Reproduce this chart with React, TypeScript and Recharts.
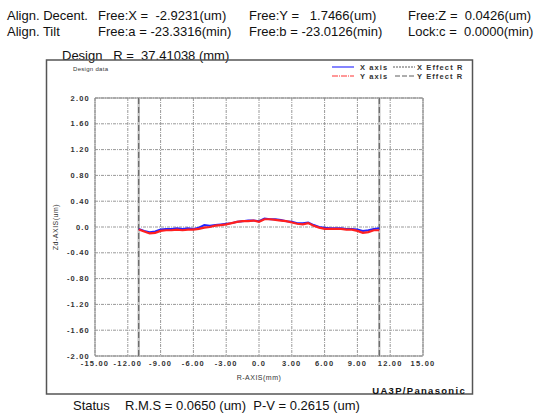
import React from "react";
import {
  LineChart,
  Line,
  XAxis,
  YAxis,
  CartesianGrid,
  ReferenceLine,
  ReferenceArea,
} from "recharts";

const radii = [
  -11, -10.5, -10, -9.5, -9, -8.5, -8, -7.5, -7, -6.5, -6, -5.5, -5, -4.5, -4,
  -3.5, -3, -2.5, -2, -1.5, -1, -0.5, 0, 0.5, 1, 1.5, 2, 2.5, 3, 3.5, 4, 4.5, 5,
  5.5, 6, 6.5, 7, 7.5, 8, 8.5, 9, 9.5, 10, 10.5, 11,
];
const xAxisProfile = [
  -0.03, -0.06, -0.08, -0.07, -0.04, -0.03, -0.03, -0.02, -0.03, -0.02, -0.03,
  -0.01, 0.03, 0.02, 0.03, 0.04, 0.05, 0.06, 0.08, 0.09, 0.1, 0.1, 0.09, 0.13,
  0.12, 0.12, 0.11, 0.09, 0.08, 0.06, 0.06, 0.07, 0.03, 0.0, -0.01, -0.02, -0.02,
  -0.02, -0.03, -0.03, -0.04, -0.06, -0.05, -0.03, -0.02,
];
const yAxisProfile = [
  -0.04, -0.07, -0.1, -0.09, -0.06, -0.05, -0.05, -0.04, -0.05, -0.04, -0.04,
  -0.03, -0.01, 0.0, 0.02, 0.03, 0.04, 0.06, 0.08, 0.09, 0.09, 0.1, 0.08, 0.12,
  0.12, 0.11, 0.1, 0.09, 0.07, 0.05, 0.04, 0.06, 0.02, -0.01, -0.03, -0.03, -0.03,
  -0.03, -0.04, -0.04, -0.06, -0.09, -0.08, -0.05, -0.05,
];
const xTicks = [-15, -12, -9, -6, -3, 0, 3, 6, 9, 12, 15];
const yTicks = [-2, -1.6, -1.2, -0.8, -0.4, 0, 0.4, 0.8, 1.2, 1.6, 2];
const effectR = [-11, 11];

const data = radii.map((r, i) => ({ r, xa: xAxisProfile[i], ya: yAxisProfile[i] }));
const fmt = (v: number) => (v === 0 ? "0.0" : v.toFixed(2));

const tickStyle = {
  fontSize: 7.5,
  fontFamily: "Liberation Sans, Arial, sans-serif",
  fontWeight: "bold",
  fill: "#333",
  letterSpacing: 1.2,
};

const hdr: React.CSSProperties = {
  fontFamily: "Liberation Sans, Arial, sans-serif",
  fontSize: 13,
  fill: "#111",
  whiteSpace: "pre",
};
const small: React.CSSProperties = {
  fontFamily: "Liberation Sans, Arial, sans-serif",
  fontSize: 7.5,
  fontWeight: "bold",
  fill: "#333",
  letterSpacing: 1.1,
  whiteSpace: "pre",
};

export default function App() {
  return (
    <div style={{ position: "absolute", left: 0, top: 0, width: 536, height: 415, background: "#fff" }}>
      <div style={{ position: "absolute", left: 0, top: 0 }}>
        <LineChart
          width={536}
          height={415}
          data={data}
          margin={{ top: 98, right: 113, left: 45, bottom: 39 }}
        >
          <CartesianGrid stroke="#999" strokeDasharray="3 1 1 1" />
          <XAxis
            type="number"
            dataKey="r"
            domain={[-15, 15]}
            ticks={xTicks}
            tickFormatter={fmt}
            axisLine={false}
            tickLine={false}
            tickSize={0}
            tickMargin={5}
            height={20}
            tick={tickStyle}
            interval={0}
          />
          <YAxis
            type="number"
            domain={[-2, 2]}
            ticks={yTicks}
            tickFormatter={fmt}
            axisLine={false}
            tickLine={false}
            tickSize={0}
            tickMargin={5}
            width={50}
            tick={tickStyle}
            interval={0}
          />
          <ReferenceArea x1={-15} x2={15} y1={-2} y2={2} fill="none" fillOpacity={0} stroke="#888" strokeWidth={1} />
          {effectR.map((v) => (
            <ReferenceLine key={"b" + v} x={v} stroke="#c4c4c4" strokeWidth={2.5} />
          ))}
          {effectR.map((v) => (
            <ReferenceLine key={"d" + v} x={v} stroke="#555" strokeWidth={1} strokeDasharray="6 3" />
          ))}
          <Line type="linear" dataKey="xa" stroke="#2323ff" strokeWidth={2} dot={false} isAnimationActive={false} />
          <Line type="linear" dataKey="ya" stroke="#ff2020" strokeWidth={2.2} dot={false} isAnimationActive={false} />
        </LineChart>
      </div>
      <svg
        width={536}
        height={415}
        style={{ position: "absolute", left: 0, top: 0, pointerEvents: "none" }}
      >
        <text x={7} y={20} style={hdr}>Align. Decent.</text>
        <text x={98} y={20} style={hdr}>{"Free:X =  -2.9231(um)"}</text>
        <text x={249} y={20} style={hdr}>{"Free:Y =   1.7466(um)"}</text>
        <text x={408} y={20} style={hdr}>{"Free:Z =  0.0426(um)"}</text>
        <text x={7} y={36} style={hdr}>Align. Tilt</text>
        <text x={98} y={36} style={hdr}>{"Free:a = -23.3316(min)"}</text>
        <text x={249} y={36} style={hdr}>{"Free:b = -23.0126(min)"}</text>
        <text x={408} y={36} style={hdr}>{"Lock:c =  0.0000(min)"}</text>
        <text x={62} y={60} style={hdr}>{"Design   R =  37.41038 (mm)"}</text>

        <rect x={46.5} y={60} width={426} height={334} fill="none" stroke="#555" strokeWidth={1.5} />

        <text x={73} y={71} style={{ ...small, fontSize: 6, fontWeight: "normal", letterSpacing: 0.3 }}>Design data</text>

        <line x1={332} y1={67} x2={354} y2={67} stroke="#3333ff" strokeWidth={1.2} />
        <text x={360} y={69.5} style={small}>X axis</text>
        <line x1={393} y1={67} x2={415} y2={67} stroke="#333" strokeWidth={0.8} strokeDasharray="2 1" />
        <text x={417} y={69.5} style={small}>X Effect R</text>
        <line x1={332} y1={76} x2={354} y2={76} stroke="#ff3333" strokeWidth={1.2} strokeDasharray="6 1 1 1" />
        <text x={360} y={78.5} style={small}>Y axis</text>
        <line x1={395} y1={76} x2={415} y2={76} stroke="#333" strokeWidth={0.8} strokeDasharray="5 2" />
        <text x={417} y={78.5} style={small}>Y Effect R</text>

        <text
          transform="translate(58,227) rotate(-90)"
          textAnchor="middle"
          style={{ ...small, fontSize: 7, fontWeight: "normal", letterSpacing: 0.5 }}
        >
          Zd-AXIS(um)
        </text>
        <text x={259} y={380} textAnchor="middle" style={{ ...small, fontSize: 7, fontWeight: "normal", letterSpacing: 0.5 }}>R-AXIS(mm)</text>
        <text
          x={466}
          y={393.5}
          textAnchor="end"
          style={{ ...small, fontSize: 9.5, fontWeight: "bold", letterSpacing: 1.3, fill: "#111" }}
        >
          UA3P/Panasonic
        </text>

        <text x={73} y={410} style={hdr}>Status</text>
        <text x={125} y={410} style={hdr}>{"R.M.S = 0.0650 (um)  P-V = 0.2615 (um)"}</text>
      </svg>
    </div>
  );
}
